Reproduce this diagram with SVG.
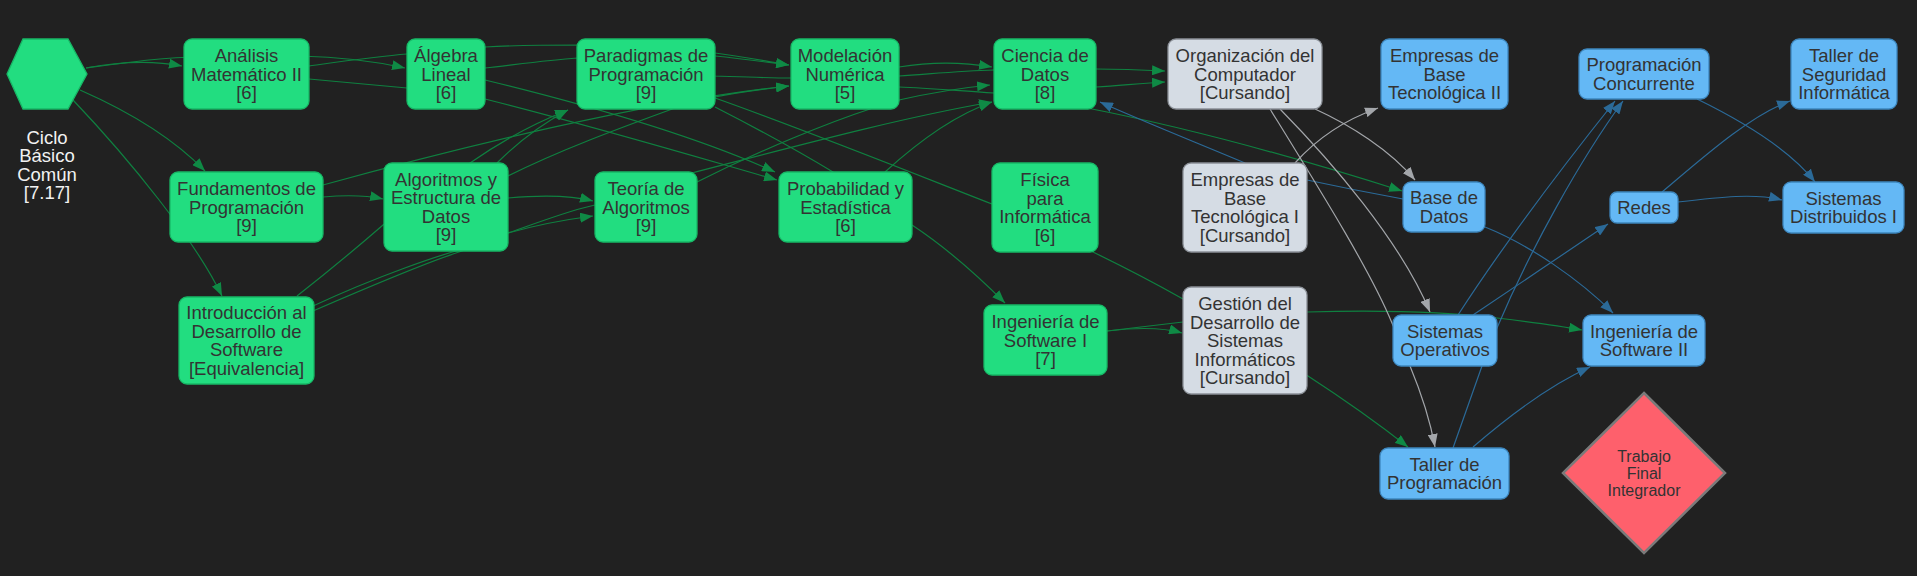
<svg xmlns="http://www.w3.org/2000/svg" width="1917" height="576" viewBox="0 0 1917 576">
<defs>
<style>
.bg{fill:#212121}
.ng rect,.ng polygon{fill:#22dd80;stroke:#17b866;stroke-width:1.3}
.nb rect{fill:#64b8f5;stroke:#3d86bd;stroke-width:1.3}
.ny rect{fill:#d5dce4;stroke:#8a8f96;stroke-width:1.3}
.nr polygon{fill:#fe606c;stroke:#7a7a7a;stroke-width:2.5}
text{font-family:"Liberation Sans",Arial,sans-serif;font-size:18.5px;fill:#333;text-anchor:middle;dominant-baseline:central}
.wt{fill:#f2f2f2}
.sm{font-size:16px}
.e{fill:none;stroke-width:1.2}
.eg{stroke:#0f8040}
.eb{stroke:#2b6a98}
.er{stroke:#a3a6aa}
</style>
<marker id="ag" markerUnits="userSpaceOnUse" markerWidth="14" markerHeight="10" refX="13" refY="5" orient="auto"><path d="M0,0 L13,5 L0,10 z" fill="#0f8a45"/></marker>
<marker id="ab" markerUnits="userSpaceOnUse" markerWidth="14" markerHeight="10" refX="13" refY="5" orient="auto"><path d="M0,0 L13,5 L0,10 z" fill="#2b6a98"/></marker>
<marker id="ar" markerUnits="userSpaceOnUse" markerWidth="14" markerHeight="10" refX="13" refY="5" orient="auto"><path d="M0,0 L13,5 L0,10 z" fill="#a3a6aa"/></marker>
</defs>
<rect class="bg" x="0" y="0" width="1917" height="576"/>
<g id="connectors">
<path class="e eg" marker-end="url(#ag)" d="M86,68 C118,62 150,60 182,66"/>
<path class="e eg" marker-end="url(#ag)" d="M86,68 C130,62 165,57 200,57 L300,56 C345,57 378,62 405,68"/>
<path class="e eg" marker-end="url(#ag)" d="M309,66 C345,61 380,56 407,54 L485,47 C520,45 550,45 577,45 L715,53 C745,57 765,61 789,65"/>
<path class="e eg" marker-end="url(#ag)" d="M715,56 C745,59 765,62 789,65"/>
<path class="e eg" marker-end="url(#ag)" d="M309,79 L407,88 L485,99 C600,128 700,158 777,180"/>
<path class="e eg" marker-end="url(#ag)" d="M485,80 C600,108 700,138 775,172"/>
<path class="e eg" marker-end="url(#ag)" d="M485,68 C520,64 550,60 577,58 L715,76 C745,77 770,78 791,78 L899,76 C930,74 960,71 994,70 L1096,69 C1125,69 1145,70 1165,71"/>
<path class="e eg" marker-end="url(#ag)" d="M899,87 C930,88 960,91 994,93 L1096,87 C1125,85 1145,83 1165,82"/>
<path class="e eg" marker-end="url(#ag)" d="M899,67 C930,62 962,62 992,67"/>
<path class="e eg" marker-end="url(#ag)" d="M80,90 C130,112 175,140 205,171"/>
<path class="e eg" marker-end="url(#ag)" d="M73,100 C130,160 195,240 222,296"/>
<path class="e eg" marker-end="url(#ag)" d="M323,197 C345,195 365,195 383,199"/>
<path class="e eg" marker-end="url(#ag)" d="M323,185 C450,150 650,100 789,86"/>
<path class="e eg" marker-end="url(#ag)" d="M508,198 C540,195 570,195 593,201"/>
<path class="e eg" marker-end="url(#ag)" d="M313,306 C380,275 440,255 460,250 L508,233 C540,224 570,219 593,216"/>
<path class="e eg" marker-end="url(#ag)" d="M313,311 C380,282 440,258 462,251 L508,233 C540,222 570,210 595,205 L692,173 C800,145 900,118 992,102"/>
<path class="e eg" marker-end="url(#ag)" d="M297,296 C330,270 360,245 383,225 L470,163 C500,142 530,125 568,110"/>
<path class="e eg" marker-end="url(#ag)" d="M497,163 C515,145 540,125 568,110"/>
<path class="e eg" marker-end="url(#ag)" d="M508,176 C560,150 620,128 675,108 L715,97 C740,92 765,89 789,86"/>
<path class="e eg" marker-end="url(#ag)" d="M697,182 C760,150 830,122 873,108 L899,100 C930,93 960,88 990,85"/>
<path class="e eg" d="M715,107 C760,130 800,152 833,172 L845,190"/>
<path class="e eg" marker-end="url(#ag)" d="M715,98 C800,128 900,168 992,204 L1093,252 C1130,270 1160,286 1183,299 L1308,376 C1345,400 1380,425 1408,447"/>
<path class="e eg" marker-end="url(#ag)" d="M912,225 C950,250 980,278 1005,303"/>
<path class="e eg" marker-end="url(#ag)" d="M885,172 C920,140 955,115 992,102"/>
<path class="e eg" marker-end="url(#ag)" d="M1107,331 C1140,327 1165,328 1182,333"/>
<path class="e eg" marker-end="url(#ag)" d="M1107,331 L1183,322 L1307,312 C1380,310 1440,311 1497,318 C1530,322 1560,326 1582,330"/>
<path class="e eg" marker-end="url(#ag)" d="M1087,108 C1200,130 1320,165 1402,191"/>
<path class="e eb" marker-end="url(#ab)" d="M1403,199 C1370,193 1335,186 1307,180 L1245,163 C1190,140 1140,120 1100,102"/>
<path class="e eb" marker-end="url(#ab)" d="M1485,227 C1530,245 1580,280 1613,313"/>
<path class="e eb" marker-end="url(#ab)" d="M1458,315 C1500,250 1560,170 1615,101"/>
<path class="e eb" marker-end="url(#ab)" d="M1453,448 L1482,366 L1497,328 C1530,250 1580,160 1623,101"/>
<path class="e eb" marker-end="url(#ab)" d="M1473,315 C1510,290 1570,250 1608,224"/>
<path class="e eb" marker-end="url(#ab)" d="M1473,447 C1510,415 1550,385 1590,367"/>
<path class="e eb" marker-end="url(#ab)" d="M1678,202 C1720,197 1755,193 1782,200"/>
<path class="e eb" marker-end="url(#ab)" d="M1662,192 C1700,160 1750,115 1790,101"/>
<path class="e eb" marker-end="url(#ab)" d="M1697,99 C1740,120 1790,150 1815,182"/>
<path class="e er" marker-end="url(#ar)" d="M1315,109 C1350,125 1390,150 1415,180"/>
<path class="e er" marker-end="url(#ar)" d="M1280,109 C1330,160 1400,240 1430,312"/>
<path class="e er" marker-end="url(#ar)" d="M1270,109 C1320,190 1370,270 1392,323 L1410,366 C1420,390 1430,420 1435,447"/>
<path class="e er" marker-end="url(#ar)" d="M1295,163 C1320,135 1350,118 1378,108"/>
</g>
<g id="n-ciclo" class="ng"><polygon points="7,74 23,39 68,39 87,74 68,109 23,109"/><text class="wt" x="47" y="137">Ciclo</text><text class="wt" x="47" y="155.5">Básico</text><text class="wt" x="47" y="174">Común</text><text class="wt" x="47" y="192.5">[7.17]</text></g>
<g id="n-am2" class="ng"><rect x="184" y="39" width="125" height="70" rx="8"/><text x="246.5" y="55.5">Análisis</text><text x="246.5" y="74">Matemático II</text><text x="246.5" y="92.5">[6]</text></g>
<g id="n-alg" class="ng"><rect x="407" y="39" width="78" height="70" rx="8"/><text x="446" y="55.5">Álgebra</text><text x="446" y="74">Lineal</text><text x="446" y="92.5">[6]</text></g>
<g id="n-fund" class="ng"><rect x="170" y="172" width="153" height="70" rx="8"/><text x="246.5" y="188.5">Fundamentos de</text><text x="246.5" y="207">Programación</text><text x="246.5" y="225.5">[9]</text></g>
<g id="n-aed" class="ng"><rect x="384" y="163" width="124" height="88" rx="8"/><text x="446" y="179">Algoritmos y</text><text x="446" y="197.5">Estructura de</text><text x="446" y="216">Datos</text><text x="446" y="234.5">[9]</text></g>
<g id="n-intro" class="ng"><rect x="179" y="297" width="135" height="87" rx="8"/><text x="246.5" y="312.8">Introducción al</text><text x="246.5" y="331.3">Desarrollo de</text><text x="246.5" y="349.8">Software</text><text x="246.5" y="368.3">[Equivalencia]</text></g>
<g id="n-par" class="ng"><rect x="577" y="39" width="138" height="70" rx="8"/><text x="646" y="55.5">Paradigmas de</text><text x="646" y="74">Programación</text><text x="646" y="92.5">[9]</text></g>
<g id="n-teo" class="ng"><rect x="595" y="172" width="102" height="70" rx="8"/><text x="646" y="188.5">Teoría de</text><text x="646" y="207">Algoritmos</text><text x="646" y="225.5">[9]</text></g>
<g id="n-mod" class="ng"><rect x="791" y="39" width="108" height="70" rx="8"/><text x="845" y="55.5">Modelación</text><text x="845" y="74">Numérica</text><text x="845" y="92.5">[5]</text></g>
<g id="n-prob" class="ng"><rect x="779" y="172" width="133" height="70" rx="8"/><text x="845.5" y="188.5">Probabilidad y</text><text x="845.5" y="207">Estadística</text><text x="845.5" y="225.5">[6]</text></g>
<g id="n-cd" class="ng"><rect x="994" y="39" width="102" height="70" rx="8"/><text x="1045" y="55.5">Ciencia de</text><text x="1045" y="74">Datos</text><text x="1045" y="92.5">[8]</text></g>
<g id="n-fis" class="ng"><rect x="992" y="163" width="106" height="89" rx="8"/><text x="1045" y="179.8">Física</text><text x="1045" y="198.3">para</text><text x="1045" y="216.8">Informática</text><text x="1045" y="235.3">[6]</text></g>
<g id="n-is1" class="ng"><rect x="984" y="305" width="123" height="70" rx="8"/><text x="1045.5" y="321.5">Ingeniería de</text><text x="1045.5" y="340">Software I</text><text x="1045.5" y="358.5">[7]</text></g>
<g id="n-oc" class="ny"><rect x="1168" y="39" width="154" height="70" rx="8"/><text x="1245" y="55.5">Organización del</text><text x="1245" y="74">Computador</text><text x="1245" y="92.5">[Cursando]</text></g>
<g id="n-eb1" class="ny"><rect x="1183" y="163" width="124" height="89" rx="8"/><text x="1245" y="179.8">Empresas de</text><text x="1245" y="198.3">Base</text><text x="1245" y="216.8">Tecnológica I</text><text x="1245" y="235.3">[Cursando]</text></g>
<g id="n-gds" class="ny"><rect x="1183" y="287" width="124" height="107" rx="8"/><text x="1245" y="303.5">Gestión del</text><text x="1245" y="322">Desarrollo de</text><text x="1245" y="340.5">Sistemas</text><text x="1245" y="359">Informáticos</text><text x="1245" y="377.5">[Cursando]</text></g>
<g id="n-eb2" class="nb"><rect x="1381" y="39" width="127" height="70" rx="8"/><text x="1444.5" y="55.5">Empresas de</text><text x="1444.5" y="74">Base</text><text x="1444.5" y="92.5">Tecnológica II</text></g>
<g id="n-bd" class="nb"><rect x="1403" y="182" width="82" height="50" rx="8"/><text x="1444" y="197.8">Base de</text><text x="1444" y="216.3">Datos</text></g>
<g id="n-so" class="nb"><rect x="1393" y="315" width="104" height="51" rx="8"/><text x="1445" y="331.3">Sistemas</text><text x="1445" y="349.8">Operativos</text></g>
<g id="n-tp" class="nb"><rect x="1380" y="448" width="129" height="51" rx="8"/><text x="1444.5" y="464.3">Taller de</text><text x="1444.5" y="482.8">Programación</text></g>
<g id="n-pc" class="nb"><rect x="1579" y="49" width="130" height="50" rx="8"/><text x="1644" y="64.8">Programación</text><text x="1644" y="83.3">Concurrente</text></g>
<g id="n-tsi" class="nb"><rect x="1791" y="39" width="106" height="70" rx="8"/><text x="1844" y="55.5">Taller de</text><text x="1844" y="74">Seguridad</text><text x="1844" y="92.5">Informática</text></g>
<g id="n-redes" class="nb"><rect x="1610" y="192" width="68" height="31" rx="7"/><text x="1644" y="207.5">Redes</text></g>
<g id="n-sd" class="nb"><rect x="1783" y="182" width="121" height="51" rx="8"/><text x="1843.5" y="198.3">Sistemas</text><text x="1843.5" y="216.8">Distribuidos I</text></g>
<g id="n-is2" class="nb"><rect x="1583" y="315" width="122" height="51" rx="8"/><text x="1644" y="331.3">Ingeniería de</text><text x="1644" y="349.8">Software II</text></g>
<g id="n-tfi" class="nr"><polygon points="1644,393 1725,473 1644,553 1563,473"/><text class="sm" x="1644" y="456">Trabajo</text><text class="sm" x="1644" y="473">Final</text><text class="sm" x="1644" y="490">Integrador</text></g>
</svg>
